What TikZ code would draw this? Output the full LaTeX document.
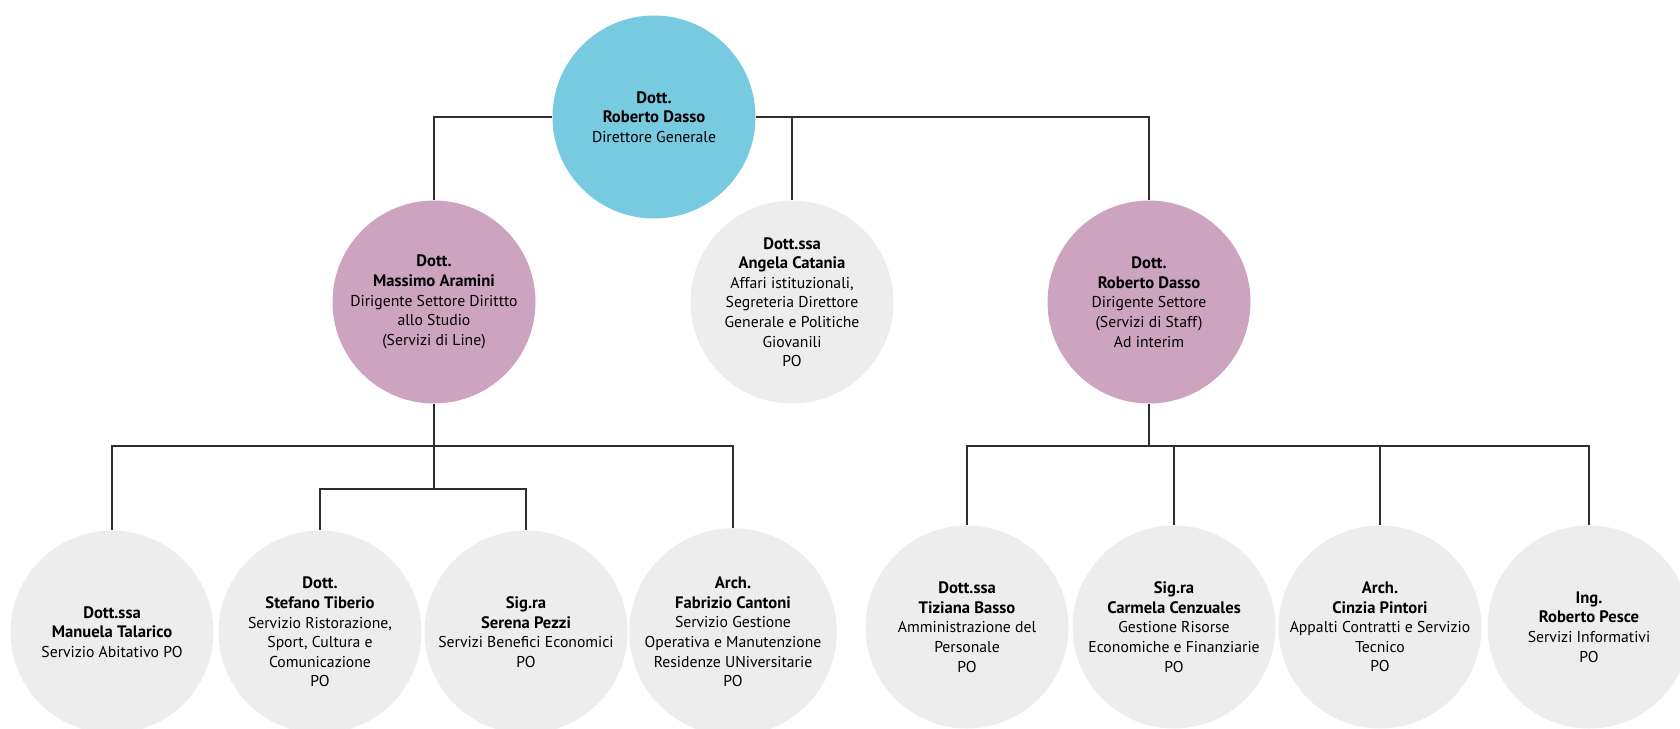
\documentclass[tikz,border=0pt]{standalone}
\usepackage{fontspec}
\setmainfont{PT Sans}
\usetikzlibrary{backgrounds}
\newcommand{\nm}[1]{{\fontsize{16.6}{19.6}\selectfont\bfseries #1}}
\begin{document}
\begin{tikzpicture}[x=1pt,y=-1pt,
  every node/.style={font=\fontsize{15.7}{19.6}\selectfont},
  bubble/.style={circle,minimum size=203pt,inner sep=0pt,align=center,text=black},
  topc/.style={bubble,fill=topblue},
  midc/.style={bubble,fill=midpink},
  leafc/.style={bubble,fill=leafgrey},
  link/.style={draw=linegrey,line width=1.3pt}]
\definecolor{topblue}{HTML}{78CAE0}
\definecolor{midpink}{HTML}{CDA4BF}
\definecolor{leafgrey}{HTML}{EDEDED}
\definecolor{linegrey}{HTML}{2E2E2E}
\useasboundingbox (0,0) rectangle (1680,728);
\clip (0,0) rectangle (1680,728);

% nodes
\node[topc] (dg) at (654,117) {\nm{Dott.}\\\nm{Roberto Dasso}\\Direttore Generale};
\node[midc] (massimo) at (434,302) {\nm{Dott.}\\\nm{Massimo Aramini}\\Dirigente Settore Dirittto\\allo Studio\\(Servizi di Line)};
\node[leafc] (catania) at (792,302) {\nm{Dott.ssa}\\\nm{Angela Catania}\\Affari istituzionali,\\Segreteria Direttore\\Generale e Politiche\\Giovanili\\PO};
\node[midc] (dasso) at (1149,302) {\nm{Dott.}\\\nm{Roberto Dasso}\\Dirigente Settore\\(Servizi di Staff)\\Ad interim};

\node[leafc] (manuela) at (112,632) {\nm{Dott.ssa}\\\nm{Manuela Talarico}\\Servizio Abitativo PO};
\node[leafc] (stefano) at (320,632) {\nm{Dott.}\\\nm{Stefano Tiberio}\\Servizio Ristorazione,\\Sport, Cultura e\\Comunicazione\\PO};
\node[leafc] (serena) at (526,632) {\nm{Sig.ra}\\\nm{Serena Pezzi}\\Servizi Benefici Economici\\PO};
\node[leafc] (fabrizio) at (733,632) {\nm{Arch.}\\\nm{Fabrizio Cantoni}\\Servizio Gestione\\Operativa e Manutenzione\\Residenze UNiversitarie\\PO};

\node[leafc] (tiziana) at (967,627) {\nm{Dott.ssa}\\\nm{Tiziana Basso}\\Amministrazione del\\Personale\\PO};
\node[leafc] (carmela) at (1174,627) {\nm{Sig.ra}\\\nm{Carmela Cenzuales}\\Gestione Risorse\\Economiche e Finanziarie\\PO};
\node[leafc] (cinzia) at (1380,627) {\nm{Arch.}\\\nm{Cinzia Pintori}\\Appalti Contratti e Servizio\\Tecnico\\PO};
\node[leafc] (pesce) at (1589,627) {\nm{Ing.}\\\nm{Roberto Pesce}\\Servizi Informativi\\PO};

% bus points
\coordinate (b1) at (massimo.center |- 0,446);
\coordinate (b2) at (massimo.center |- 0,489);
\coordinate (b3) at (dasso.center |- 0,446);

% connectors behind the circles
\begin{pgfonlayer}{background}
\draw[link] (massimo.north) |- (dg) -| (dasso.north);
\draw[link] (catania.north) -- (catania.north |- dg.center);
\draw[link] (massimo.south) -- (b2);
\draw[link] (manuela.north) |- (b1) -| (fabrizio.north);
\draw[link] (stefano.north) |- (b2) -| (serena.north);
\draw[link] (dasso.south) -- (b3);
\draw[link] (tiziana.north) |- (b3) -| (pesce.north);
\draw[link] (carmela.north) -- (carmela.north |- b3);
\draw[link] (cinzia.north) -- (cinzia.north |- b3);
\end{pgfonlayer}
\end{tikzpicture}
\end{document}
